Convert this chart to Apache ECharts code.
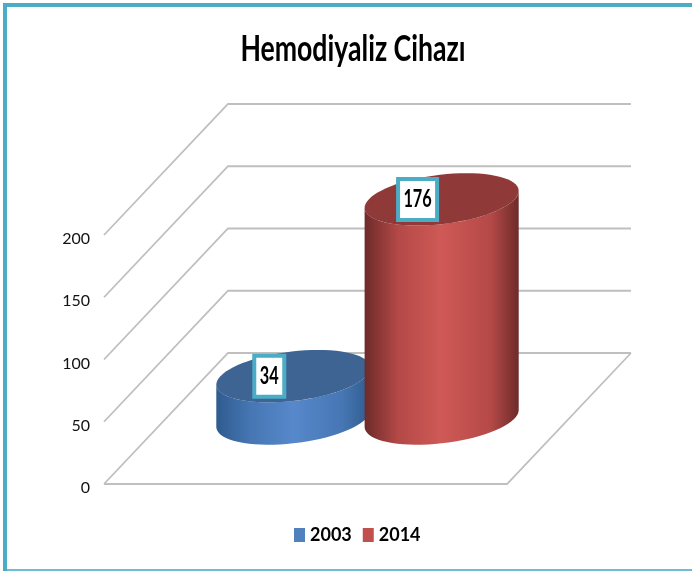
<!DOCTYPE html>
<html>
<head>
<meta charset="utf-8">
<style>
  html, body { margin: 0; padding: 0; background: #fff; }
  #chart { width: 692px; height: 571px; }
</style>
<script src="https://cdn.jsdelivr.net/npm/echarts@6/dist/echarts.min.js"></script>
</head>
<body>
<div id="chart"></div>
<script>
var titleText = 'Hemodiyaliz Cihazı';
var category = ['Hemodiyaliz Cihazı'];
var seriesNames = ['2003', '2014'];
var values2003 = [34];
var values2014 = [176];
var yTicks = [0, 50, 100, 150, 200];

var font = 'Lato, sans-serif';

// depth of the fake 3D floor, in pixels
var depthX = 124;
var depthY = -131;

var chart = echarts.init(document.getElementById('chart'));

// floor + walls, one set of lines per tick
function renderWall(params, api) {
  var p = api.coord([0, api.value(0)]);
  var band = api.size([1, 0])[0];
  var x0 = p[0] - band / 2;
  var x1 = p[0] + band / 2;
  var y = p[1];
  var lineStyle = { stroke: '#bfbfbf', lineWidth: 1.8, fill: null };
  var children = [
    { type: 'polyline', shape: { points: [[x0, y], [x0 + depthX, y + depthY], [x1 + depthX, y + depthY]] }, style: lineStyle }
  ];
  if (api.value(0) === 0) {
    children.push({ type: 'polyline', shape: { points: [[x0, y], [x1, y], [x1 + depthX, y + depthY]] }, style: lineStyle });
  }
  return { type: 'group', children: children };
}

// cylinder standing on the middle of the floor
function cylinderRender(offset, topColor, edgeColor, shadeColor, midColor) {
  return function (params, api) {
    var band = api.size([1, 0])[0];
    var base = api.coord([0, 0]);
    var top = api.coord([0, api.value(0)]);
    var cx = base[0] + offset * band + depthX * 0.5;
    var baseY = base[1] + depthY * 0.5;
    var topY = top[1] + depthY * 0.5;
    var a = band * 0.181;
    var b = 0.2;
    var t0 = Math.atan2(b * depthX, a);

    function pt(y, t) {
      return [cx + a * Math.cos(t) + b * depthX * Math.sin(t), y + b * depthY * Math.sin(t)];
    }
    var ellipse = [];
    var front = [];
    var back = [];
    for (var i = 0; i <= 72; i++) {
      var t = i / 72 * Math.PI * 2;
      ellipse.push(pt(topY, t));
    }
    for (var j = 0; j <= 36; j++) {
      var s = t0 + Math.PI + j / 36 * Math.PI;
      front.push(pt(baseY, s));
      back.unshift(pt(topY, s));
    }

    // label box, grows with the number of digits
    var text = String(api.value(0));
    var boxW = text.length * 9 + 12;
    var boxH = 41;
    var boxX = cx - a * 0.33;

    return {
      type: 'group',
      children: [
        {
          type: 'polygon',
          shape: { points: front.concat(back) },
          style: {
            fill: new echarts.graphic.LinearGradient(0, 0, 1, 0, [
              { offset: 0, color: edgeColor },
              { offset: 0.22, color: shadeColor },
              { offset: 0.5, color: midColor },
              { offset: 0.82, color: shadeColor },
              { offset: 1, color: edgeColor }
            ])
          }
        },
        { type: 'polygon', shape: { points: ellipse }, style: { fill: topColor } },
        {
          type: 'rect',
          shape: { x: boxX - boxW / 2, y: topY - boxH / 2, width: boxW, height: boxH },
          style: { fill: '#fff', stroke: '#4bacc6', lineWidth: 4 }
        },
        {
          type: 'text',
          x: boxX,
          y: topY,
          scaleX: 0.68,
          style: {
            text: text,
            font: 'bold 24px ' + font,
            fill: '#000',
            align: 'center',
            verticalAlign: 'middle'
          }
        }
      ]
    };
  };
}

var option = {
  animation: false,
  backgroundColor: '#fff',
  legend: {
    data: seriesNames,
    left: 289,
    top: 521,
    icon: 'rect',
    itemWidth: 11,
    itemHeight: 14,
    itemGap: 11,
    textStyle: { fontFamily: font, fontSize: 18, fontWeight: 'bold', color: '#000' }
  },
  grid: { left: 104, top: 235, width: 403, height: 249 },
  xAxis: {
    type: 'category',
    data: category,
    axisLabel: { show: false },
    axisLine: { show: false },
    axisTick: { show: false }
  },
  yAxis: {
    type: 'value',
    min: 0,
    max: 200,
    interval: 50,
    splitLine: { show: false },
    axisLine: { show: false },
    axisTick: { show: false },
    axisLabel: { margin: 14, fontFamily: font, fontSize: 16, color: '#111', verticalAlign: 'top', lineHeight: 8 }
  },
  series: [
    {
      type: 'custom',
      name: 'wall',
      silent: true,
      z: 1,
      renderItem: renderWall,
      data: yTicks.map(function (v) { return [v]; }),
      encode: { y: 0 }
    },
    {
      type: 'custom',
      name: seriesNames[0],
      z: 2,
      itemStyle: { color: '#4f81bd' },
      renderItem: cylinderRender(-0.184, '#3e6493', '#2f5b8e', '#4676b3', '#5688cb'),
      data: values2003.map(function (v) { return [v]; }),
      encode: { y: 0 }
    },
    {
      type: 'custom',
      name: seriesNames[1],
      z: 3,
      itemStyle: { color: '#c0504d' },
      renderItem: cylinderRender(0.184, '#8f3a38', '#6d2b2a', '#b44947', '#cf5956'),
      data: values2014.map(function (v) { return [v]; }),
      encode: { y: 0 }
    }
  ],
  graphic: [
    {
      type: 'text',
      silent: true,
      x: 353,
      y: 49,
      scaleX: 0.74,
      style: {
        text: titleText,
        font: 'bold 36px ' + font,
        fill: '#000',
        align: 'center',
        verticalAlign: 'middle'
      }
    },
    // frame: top and left edges, thin bottom edge, no right edge
    {
      type: 'polyline',
      silent: true,
      shape: { points: [[692, 5], [5, 5], [5, 571]] },
      style: { fill: null, stroke: '#4bacc6', lineWidth: 4 }
    },
    {
      type: 'line',
      silent: true,
      shape: { x1: 7, y1: 570, x2: 692, y2: 570 },
      style: { stroke: '#6fbdd2', lineWidth: 2 }
    }
  ]
};
chart.setOption(option);
</script>
</body>
</html>
